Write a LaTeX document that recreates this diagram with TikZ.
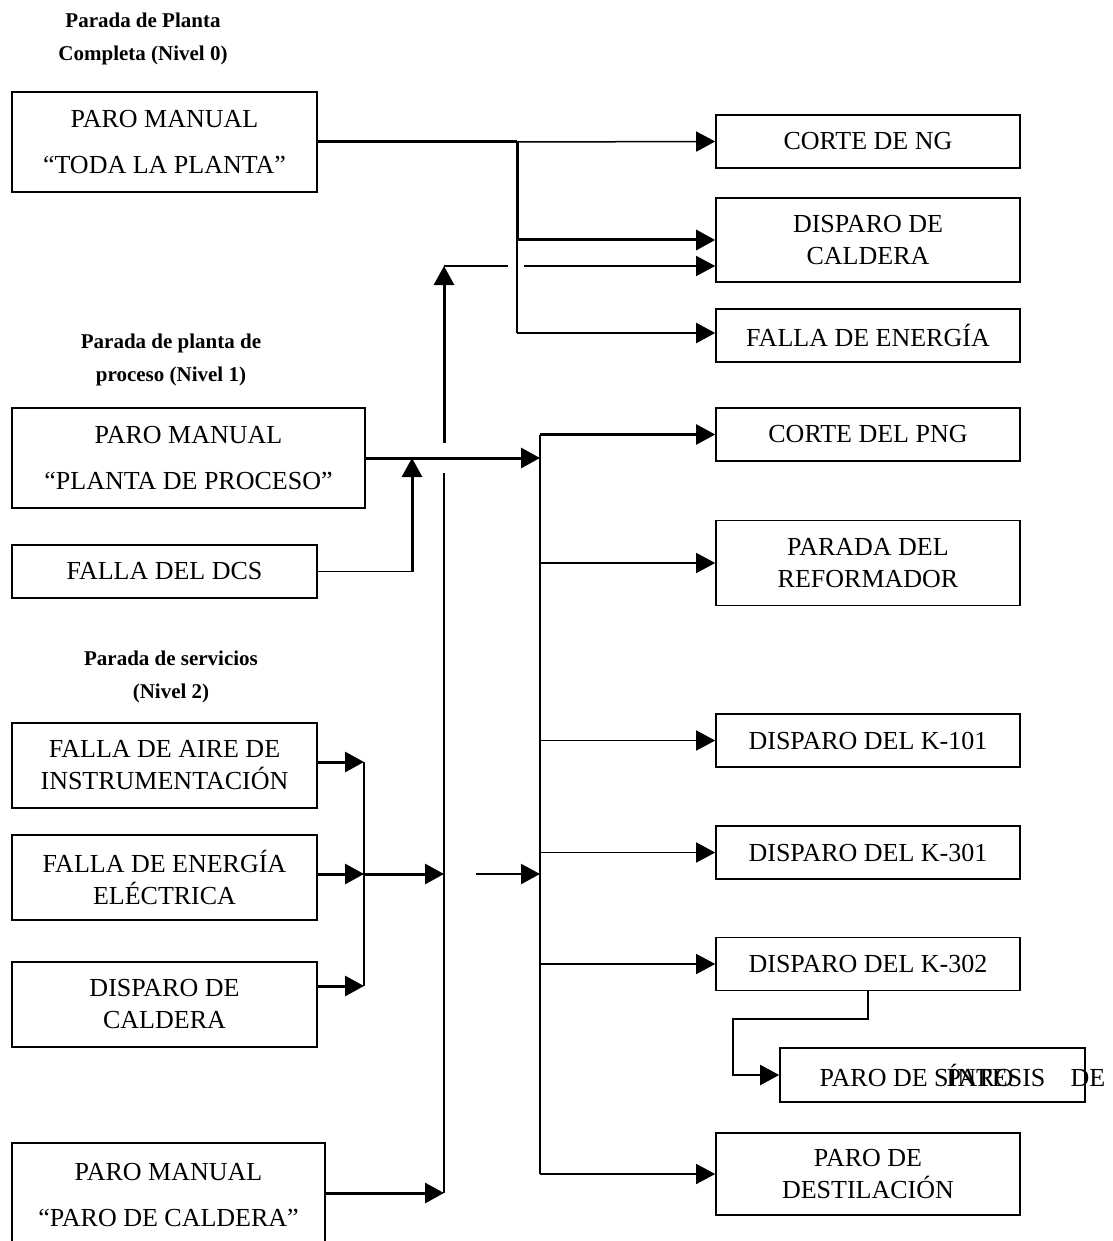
\documentclass[tikz,border=0pt]{standalone}
\usepackage{fontspec}
\setmainfont{Liberation Serif}
\usetikzlibrary{arrows.meta}
\begin{document}
\begin{tikzpicture}[x=1pt,y=-1pt,
  >={Triangle[length=19pt,width=20pt]},
  box/.style={draw,line width=1.6pt,inner sep=0pt,align=center,
    font=\fontsize{26}{32}\selectfont},
  manual/.style={box,font=\fontsize{26}{46}\selectfont},
  title/.style={align=center,font=\bfseries\fontsize{21}{33}\selectfont},
  thinl/.style={line width=1.5pt},
  midl/.style={line width=2.2pt},
  thickl/.style={line width=3pt},
  overlay text/.style={anchor=base,inner sep=0pt,font=\fontsize{26}{32}\selectfont}]
\clip (0,0) rectangle (1112,1241);

% level titles
\node[title] (t0) at (143,39) {Parada de Planta\\Completa (Nivel 0)};
\node[title] (t1) at (171,360) {Parada de planta de\\proceso (Nivel 1)};
\node[title] (t2) at (171,677) {Parada de servicios\\(Nivel 2)};

% left column
\node[manual,minimum width=305,minimum height=100] (tp) at (164.5,142) {PARO MANUAL\\“TODA LA PLANTA”};
\node[manual,minimum width=353,minimum height=100] (pp) at (188.5,458) {PARO MANUAL\\“PLANTA DE PROCESO”};
\node[box,minimum width=305,minimum height=53] (dcs) at (164.5,571.5) {FALLA DEL DCS};
\node[box,minimum width=305,minimum height=85] (aire) at (164.5,765.5) {FALLA DE AIRE DE\\INSTRUMENTACIÓN};
\node[box,minimum width=305,minimum height=85] (elec) at (164.5,877.5) {FALLA DE ENERGÍA\\ELÉCTRICA};
\node[box,minimum width=305,minimum height=85] (cald2) at (164.5,1004.5) {DISPARO DE\\CALDERA};
\node[manual,minimum width=313,minimum height=105] (pc) at (168.5,1195.5) {PARO MANUAL\\“PARO DE CALDERA”};

% right column
\node[box,minimum width=304,minimum height=53] (ng) at (868,141.5) {CORTE DE NG};
\node[box,minimum width=304,minimum height=84] (cald) at (868,240) {DISPARO DE\\CALDERA};
\node[box,minimum width=304,minimum height=53] (ener) at (868,335.5) {FALLA DE ENERGÍA};
\node[box,minimum width=304,minimum height=53] (png) at (868,434.5) {CORTE DEL PNG};
\node[box,minimum width=304,minimum height=85] (ref) at (868,563) {PARADA DEL\\REFORMADOR};
\node[box,minimum width=304,minimum height=53] (k101) at (868,740.5) {DISPARO DEL K-101};
\node[box,minimum width=304,minimum height=53] (k301) at (868,852.5) {DISPARO DEL K-301};
\node[box,minimum width=304,minimum height=53] (k302) at (868,964) {DISPARO DEL K-302};
\node[box,minimum width=305,minimum height=54] (sint) at (932.5,1075) {PARO DE SÍNTESIS};
\node[overlay text] (sintb) at (sint.base -| 980,0) {PARO};
\node[overlay text] (sintc) at (sint.base -| 1088,0) {DE};
\node[box,minimum width=304,minimum height=82] (dest) at (868,1174) {PARO DE\\DESTILACIÓN};

% level 0 distribution
\coordinate (j0) at (517,142);
\coordinate (j1) at (517,240);
\coordinate (j2) at (517,333);
\draw[thickl] (tp.east) -- (j0);
\draw[thinl,->] (j0) -- (ng.west);
\draw[thickl] (j0) -- (j1);
\draw[thinl] (j1) -- (j2);
\draw[thickl,->] (j1) -- (cald.west);
\draw[midl,->] (j2) -- (j2 -| ener.west);

% rise from level 1 into the boiler trip
\coordinate (u0) at (444,443);
\coordinate (u1) at (444,266);
\coordinate (u2) at (508,266);
\coordinate (u3) at (524,266);
\draw[thickl,->] (u0) -- (u1);
\draw[thinl] (u1) -- (u2);
\draw[thinl,->] (u3) -- (u3 -| cald.west);

% level 1 bus
\coordinate (b0) at (540,434.5);
\coordinate (b1) at (540,1174);
\draw[thickl,->] (pp.east) -- (540,458);
\draw[midl] (b0) -- (b1);
\draw[midl,->] (b0) -- (png.west);
\draw[thinl,->] (540,563) -- (ref.west);
\draw[thinl,->] (540,740.5) -- (k101.west);
\draw[thinl,->] (540,852.5) -- (k301.west);
\draw[thinl,->] (540,964) -- (k302.west);
\draw[thinl,->] (b1) -- (dest.west);

% DCS failure feed
\coordinate (d0) at (412,571.5);
\draw[thinl] (dcs.east) -- (d0);
\draw[thickl,->] (d0) -- (412,458);

% level 2 collector
\coordinate (c0) at (364,762);
\coordinate (c1) at (364,874);
\coordinate (c2) at (364,986);
\draw[thickl,->] (aire.east |- c0) -- (c0);
\draw[thickl,->] (elec.east |- c1) -- (c1);
\draw[thickl,->] (cald2.east |- c2) -- (c2);
\draw[midl] (c0) -- (c2);
\coordinate (v0) at (444,473);
\coordinate (v1) at (444,1193);
\draw[midl] (v0) -- (v1);
\draw[thickl,->] (c1) -- (c1 -| v0);
\coordinate (s0) at (476,874);
\draw[midl,->] (s0) -- (540,874);
\draw[thickl,->] (pc.east |- v1) -- (v1);

% synthesis stop from K-302
\draw[midl,->] (k302.south) -- ++(0,28) -- ++(-135,0) |- (sint.west);
\end{tikzpicture}
\end{document}
